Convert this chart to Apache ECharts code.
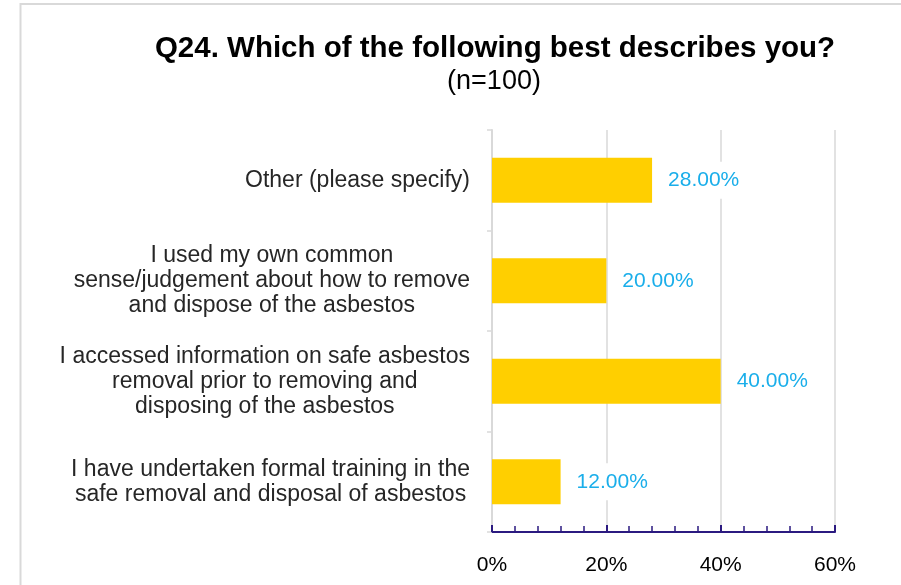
<!DOCTYPE html>
<html>
<head>
<meta charset="utf-8">
<script src="https://cdn.jsdelivr.net/npm/echarts@6/dist/echarts.min.js"></script>
<style>
  html, body { margin: 0; padding: 0; background: #fff; }
  #chart { width: 901px; height: 585px; }
</style>
</head>
<body>
<div id="chart"></div>
<script>
// Survey answers, listed top to bottom
const categories = [
  'Other (please specify)',
  'I used my own common\nsense/judgement about how to remove\nand dispose of the asbestos',
  'I accessed information on safe asbestos\nremoval prior to removing and\ndisposing of the asbestos',
  'I have undertaken formal training in the\nsafe removal and disposal of asbestos'
];
// Share of respondents, percent
const shares = [28, 20, 40, 12];
// Horizontal scale
const axisMin = 0;
const axisMax = 60;
const axisStep = 20;

const titleText = 'Q24. Which of the following best describes you?';
const subtitleText = '(n=100)';

const chart = echarts.init(document.getElementById('chart'), null, { renderer: 'canvas' });

const FONT = '"Liberation Sans", Arial, sans-serif';

chart.setOption({
  backgroundColor: '#ffffff',
  animation: false,
  graphic: [{
    type: 'rect',
    shape: { x: 20.5, y: 4, width: 1000, height: 1000 },
    style: { fill: null, stroke: '#d9d9d9', lineWidth: 2 },
    silent: true
  }],
  title: [{
    text: titleText,
    left: 490,
    top: 29,
    textAlign: 'center',
    textStyle: { fontFamily: FONT, fontSize: 29.5, fontWeight: 'bold', color: '#000000' }
  }, {
    text: subtitleText,
    left: 489,
    top: 63,
    textAlign: 'center',
    textStyle: { fontFamily: FONT, fontSize: 27, fontWeight: 'normal', color: '#000000' }
  }],
  grid: { left: 492, right: 66, top: 130, bottom: 53, containLabel: false },
  xAxis: {
    type: 'value',
    min: axisMin,
    max: axisMax,
    interval: axisStep,
    axisLine: { show: true, lineStyle: { color: '#2b1a80', width: 2 } },
    axisTick: { show: true, inside: true, length: 7, lineStyle: { color: '#2b1a80', width: 2 } },
    minorTick: { show: true, splitNumber: 5, length: 6, lineStyle: { color: '#2b1a80', width: 1.5 } },
    axisLabel: {
      formatter: '{value}%',
      margin: 23,
      fontFamily: FONT,
      fontSize: 21,
      color: '#000000'
    },
    splitLine: { show: true, lineStyle: { color: '#d9d9d9', width: 1.5 } }
  },
  yAxis: {
    type: 'category',
    data: categories,
    inverse: true,
    axisLine: { show: true, lineStyle: { color: '#d9d9d9', width: 2 } },
    axisTick: { show: true, length: 5, lineStyle: { color: '#d9d9d9', width: 1.5 } },
    axisLabel: {
      margin: 22,
      formatter: function (v) {
        return v.split('\n').map(function (l) { return '{c|' + l + '}'; }).join('\n');
      },
      rich: {
        c: {
          align: 'center',
          fontFamily: FONT,
          fontSize: 23,
          lineHeight: 25,
          color: '#262626'
        }
      }
    },
    splitLine: { show: false }
  },
  series: [{
    type: 'bar',
    data: shares,
    barWidth: '45%',
    itemStyle: { color: '#ffcf00' },
    label: {
      show: true,
      position: 'right',
      distance: 12,
      padding: [8, 4, 8, 4],
      backgroundColor: '#ffffff',
      formatter: function (p) { return p.value.toFixed(2) + '%'; },
      fontFamily: FONT,
      fontSize: 21,
      color: '#1aaeea'
    }
  }]
});
</script>
</body>
</html>
